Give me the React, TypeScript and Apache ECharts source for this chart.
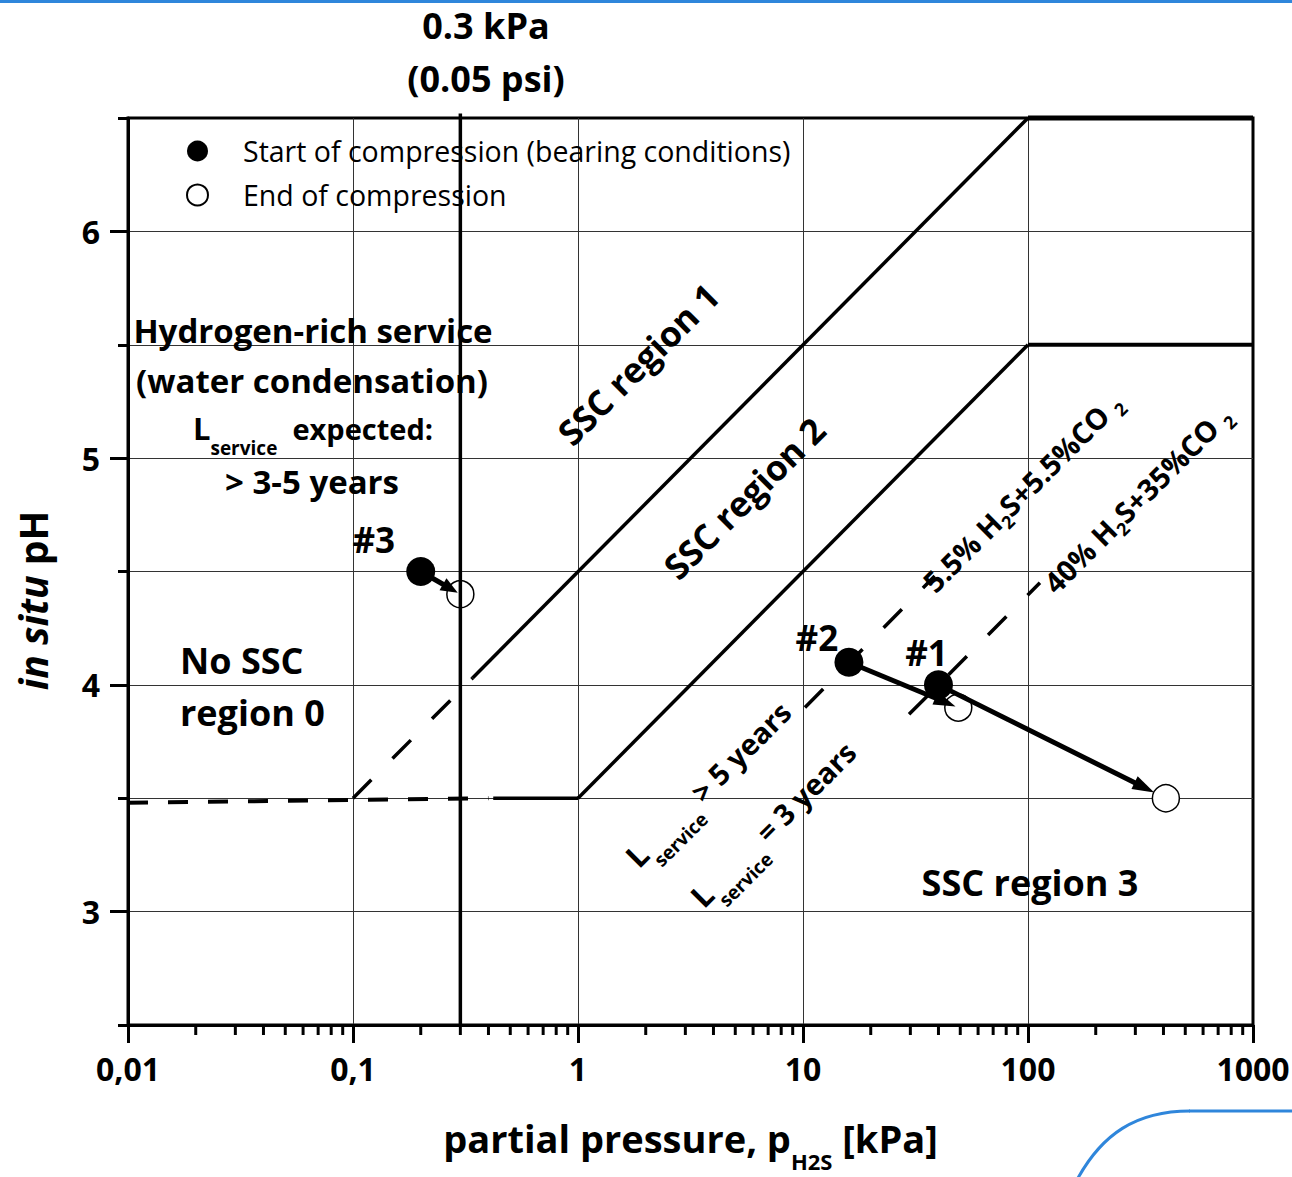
import React, { useEffect, useRef } from 'react';
import * as echarts from 'echarts';

// ---------------- data ----------------
const xTickValues = [0.01, 0.1, 1, 10, 100, 1000];
const xTickLabels = ['0,01', '0,1', '1', '10', '100', '1000'];
const xMinorMantissas = [2, 3, 4, 5, 6, 7, 8, 9];
const xMinorDecades = [0.01, 0.1, 1, 10, 100];
const yMajorTicks = [3, 4, 5, 6];
const yTickLabels = ['3', '4', '5', '6'];

const legendNames = ['Start of compression (bearing conditions)', 'End of compression'];
const caseNames = ['#1', '#2', '#3'];
const startPressure = [40, 16, 0.2];
const startPH = [4.0, 4.1, 4.5];
const endPressure = [410, 49, 0.3];
const endPH = [3.5, 3.9, 4.4];

const limit03kPa = [[0.3, 2.5], [0.3, 6.52]];
const floorDashed = [[0.01, 3.48], [0.4, 3.5]];
const floorSolid = [[0.42, 3.5], [1, 3.5]];
const bound01Dashed = [[0.1, 3.5], [0.34, 4.03]];
const bound01Solid = [[0.34, 4.03], [100, 6.5]];
const bound01Top = [[100, 6.5], [1000, 6.5]];
const bound12Solid = [[1, 3.5], [100, 5.5]];
const bound12Top = [[100, 5.5], [1000, 5.5]];
const gas55Line = [[10.2, 3.9], [38.5, 4.48]];
const gas40Line = [[29.6, 3.87], [113, 4.45]];

// ---------------- styles ----------------
const FONT = 'Open Sans';
const BLUE = '#2f86db';
const caseLabelOffsets = [[-12, -32], [-32, -25], [-47, -32]];
const arrowTipGaps = [13, 3, 3];

const xMinorTicks: number[] = [];
xMinorDecades.forEach((d) => xMinorMantissas.forEach((m) => xMinorTicks.push(+(d * m).toPrecision(6))));

function lineSeries(data: number[][], width: number, dash?: number[], z = 2) {
  return {
    type: 'line',
    data,
    symbol: 'none',
    silent: true,
    clip: false,
    z,
    xAxisIndex: 0,
    yAxisIndex: 0,
    emphasis: { disabled: true },
    lineStyle: { color: '#000', width, type: dash || 'solid', cap: 'butt' },
  };
}

function txt(text: string, x: number, y: number, size: number, opts: any = {}) {
  return {
    type: 'text',
    x,
    y,
    rotation: opts.rotation || 0,
    z: 100,
    silent: true,
    style: {
      text,
      fill: '#000',
      fontFamily: FONT,
      fontSize: size,
      fontWeight: opts.weight || 'bold',
      align: opts.align || 'center',
      verticalAlign: 'middle',
      rich: opts.rich,
    },
  };
}

function tok(size: number, extra: any = {}) {
  return { fontFamily: FONT, fontSize: size, fontWeight: 'bold', fill: '#000', ...extra };
}

export default function App() {
  const ref = useRef<HTMLDivElement>(null);

  useEffect(() => {
    if (!ref.current) return;
    const chart = echarts.init(ref.current, undefined, { renderer: 'svg' });

    const xLabel = (v: number) => {
      const i = xTickValues.findIndex((t) => Math.abs(t - v) / t < 1e-6);
      return i >= 0 ? xTickLabels[i] : '';
    };
    const yLabel = (v: number) => {
      const i = yMajorTicks.findIndex((t) => Math.abs(t - v) < 1e-6);
      return i >= 0 ? yTickLabels[i] : '';
    };

    const gasRich = {
      m: tok(29),
      s: tok(18, { padding: [22, 0, 0, 0], lineHeight: 10 }),
    };
    const lRich = {
      L: tok(31),
      s: tok(19, { padding: [40, 0, 0, 0], lineHeight: 10 }),
      m: tok(29),
    };

    const option: any = {
      animation: false,
      backgroundColor: '#fff',
      textStyle: { fontFamily: FONT },
      grid: {
        left: 128,
        top: 118,
        width: 1125,
        height: 907,
        show: true,
        borderColor: '#000',
        borderWidth: 3,
        backgroundColor: 'transparent',
        outerBoundsMode: 'none',
      },
      legend: {
        data: legendNames,
        orient: 'vertical',
        left: 181,
        top: 131,
        itemWidth: 21,
        itemHeight: 21,
        itemGap: 14,
        icon: 'circle',
        selectedMode: false,
        textStyle: {
          fontFamily: FONT,
          fontSize: 28.5,
          color: '#000',
          lineHeight: 30,
          padding: [0, 0, 0, 30],
        },
      },
      xAxis: [
        {
          type: 'log',
          logBase: 10,
          min: 0.01,
          max: 1000,
          position: 'bottom',
          axisLine: { show: true, lineStyle: { color: '#000', width: 3 } },
          axisTick: { show: true, inside: false, length: 18, lineStyle: { color: '#000', width: 3 } },
          axisLabel: {
            formatter: xLabel,
            margin: 27,
            fontFamily: FONT,
            fontSize: 32,
            fontWeight: 'bold',
            color: '#000',
            showMinLabel: true,
            showMaxLabel: true,
          },
          splitLine: { show: true, showMinLine: false, showMaxLine: false, lineStyle: { color: '#333', width: 1 } },
          minorTick: { show: false },
          name: '{m|partial pressure, p}{s|H2S}{m| [kPa]}',
          nameLocation: 'middle',
          nameGap: 94,
          nameTextStyle: {
            color: '#000',
            fontFamily: FONT,
            fontSize: 38,
            fontWeight: 'bold',
            rich: {
              m: { fontFamily: FONT, fontSize: 38, fontWeight: 'bold', color: '#000' },
              s: { fontFamily: FONT, fontSize: 22, fontWeight: 'bold', color: '#000', padding: [46, 0, 0, 0], lineHeight: 10 },
            },
          },
        },
      ],
      yAxis: [
        {
          type: 'value',
          min: 2.5,
          max: 6.5,
          interval: 0.5,
          position: 'left',
          axisLine: { show: true, lineStyle: { color: '#000', width: 3 } },
          axisTick: { show: true, inside: false, length: 10, lineStyle: { color: '#000', width: 3 } },
          axisLabel: {
            formatter: yLabel,
            margin: 28,
            fontFamily: FONT,
            fontSize: 32,
            fontWeight: 'bold',
            color: '#000',
            showMinLabel: true,
            showMaxLabel: true,
          },
          splitLine: { show: true, showMinLine: false, showMaxLine: false, lineStyle: { color: '#333', width: 1 } },
          name: '{i|in situ }{m|pH}',
          nameLocation: 'middle',
          nameRotate: 90,
          nameGap: 76,
          nameTextStyle: {
            color: '#000',
            fontFamily: FONT,
            fontSize: 39,
            fontWeight: 'bold',
            padding: [0, 58, 0, 0],
            rich: {
              i: { fontFamily: FONT, fontSize: 39, fontWeight: 'bold', fontStyle: 'italic', color: '#000' },
              m: { fontFamily: FONT, fontSize: 39, fontWeight: 'bold', color: '#000' },
            },
          },
        },
        {
          type: 'value',
          min: 2.5,
          max: 6.5,
          position: 'left',
          axisLine: { show: false },
          axisTick: { show: true, inside: false, length: 18, customValues: yMajorTicks, lineStyle: { color: '#000', width: 3 } },
          axisLabel: { show: false },
          splitLine: { show: false },
        },
      ],
      series: [
        // minor ticks of the log x axis
        {
          type: 'custom',
          coordinateSystem: 'cartesian2d',
          xAxisIndex: 0,
          yAxisIndex: 0,
          silent: true,
          clip: false,
          z: 1,
          data: xMinorTicks.map((v) => [v, 2.5]),
          renderItem: (params: any, api: any) => {
            const p = api.coord([api.value(0), api.value(1)]);
            return {
              type: 'line',
              shape: { x1: p[0], y1: p[1], x2: p[0], y2: p[1] + 10 },
              style: { stroke: '#000', lineWidth: 3 },
            };
          },
        },
        lineSeries(floorDashed, 4, [20, 20]),
        lineSeries(floorSolid, 3.5),
        lineSeries(bound01Dashed, 3.5, [26, 30]),
        lineSeries(bound01Solid, 3.5),
        lineSeries(bound01Top, 5),
        lineSeries(bound12Solid, 3.5),
        lineSeries(bound12Top, 4),
        lineSeries(gas55Line, 3.5, [26, 30]),
        lineSeries(gas40Line, 3.5, [26, 30]),
        {
          name: legendNames[1],
          type: 'scatter',
          xAxisIndex: 0,
          yAxisIndex: 0,
          symbol: 'circle',
          symbolSize: 27,
          z: 3,
          silent: true,
          clip: false,
          emphasis: { disabled: true },
          itemStyle: { color: '#fff', borderColor: '#000', borderWidth: 1.5, opacity: 1 },
          data: endPressure.map((p, i) => [p, endPH[i]]),
        },
        lineSeries(limit03kPa, 3.5, undefined, 4),
        // arrows start -> end
        {
          type: 'custom',
          coordinateSystem: 'cartesian2d',
          xAxisIndex: 0,
          yAxisIndex: 0,
          silent: true,
          clip: false,
          z: 5,
          encode: { x: [0, 2], y: [1, 3] },
          data: startPressure.map((p, i) => [p, startPH[i], endPressure[i], endPH[i]]),
          renderItem: (params: any, api: any) => {
            const p0 = api.coord([api.value(0), api.value(1)]);
            const p1 = api.coord([api.value(2), api.value(3)]);
            const gap = arrowTipGaps[params.dataIndex];
            const dx = p1[0] - p0[0];
            const dy = p1[1] - p0[1];
            const len = Math.hypot(dx, dy);
            const ux = dx / len;
            const uy = dy / len;
            const tip = [p1[0] - ux * gap, p1[1] - uy * gap];
            const headLen = params.dataIndex === 2 ? 17 : 22;
            const headW = 7;
            const base = [tip[0] - ux * headLen, tip[1] - uy * headLen];
            const nx = -uy;
            const ny = ux;
            return {
              type: 'group',
              children: [
                {
                  type: 'line',
                  shape: { x1: p0[0], y1: p0[1], x2: base[0] + ux * 2, y2: base[1] + uy * 2 },
                  style: { stroke: '#000', lineWidth: 5 },
                },
                {
                  type: 'polygon',
                  shape: {
                    points: [
                      tip,
                      [base[0] + nx * headW, base[1] + ny * headW],
                      [base[0] - nx * headW, base[1] - ny * headW],
                    ],
                  },
                  style: { fill: '#000' },
                },
              ],
            };
          },
        },
        {
          name: legendNames[0],
          type: 'scatter',
          xAxisIndex: 0,
          yAxisIndex: 0,
          symbol: 'circle',
          symbolSize: 29,
          z: 6,
          silent: true,
          clip: false,
          emphasis: { disabled: true },
          itemStyle: { color: '#000', opacity: 1 },
          label: {
            show: true,
            position: 'inside',
            formatter: (p: any) => caseNames[p.dataIndex],
            fontFamily: FONT,
            fontSize: 35,
            fontWeight: 'bold',
            color: '#000',
          },
          data: startPressure.map((p, i) => ({
            value: [p, startPH[i]],
            label: { offset: caseLabelOffsets[i] },
          })),
        },
      ],
      graphic: [
        { type: 'rect', silent: true, shape: { x: 0, y: 0, width: 1292, height: 3 }, style: { fill: BLUE } },
        {
          type: 'bezierCurve',
          silent: true,
          shape: { x1: 1078, y1: 1178, cpx1: 1102, cpy1: 1135, cpx2: 1135, cpy2: 1111, x2: 1190, y2: 1111 },
          style: { stroke: BLUE, lineWidth: 3, fill: null },
        },
        { type: 'line', silent: true, shape: { x1: 1189, y1: 1111, x2: 1292, y2: 1111 }, style: { stroke: BLUE, lineWidth: 3 } },
        txt('0.3 kPa', 486, 25, 36),
        txt('(0.05 psi)', 486, 78, 36),
        txt('Hydrogen-rich service', 313, 330, 33),
        txt('(water condensation)', 312, 380, 33),
        txt('{L|L}{s|service}{m|  expected:}', 313, 428, 31, { rich: lRich }),
        txt('> 3-5 years', 312, 481, 33),
        txt('No SSC', 180, 660, 36, { align: 'left' }),
        txt('region 0', 180, 712, 36, { align: 'left' }),
        txt('SSC region 3', 1030, 882, 36),
        txt('SSC region 1', 638, 364, 35, { rotation: Math.PI / 4 }),
        txt('SSC region 2', 744, 498, 35, { rotation: Math.PI / 4 }),
        txt('{m|5.5% H}{s|2}{m|S+5.5%CO }{s|2}', 1022, 492, 29, { rotation: Math.PI / 4, rich: gasRich }),
        txt('{m|40% H}{s|2}{m|S+35%CO }{s|2}', 1137, 499, 29, { rotation: Math.PI / 4, rich: gasRich }),
        txt('{L|L}{s|service}{m| > 5 years}', 708, 784, 29, { rotation: Math.PI / 4, rich: lRich }),
        txt('{L|L}{s|service}{m| = 3 years}', 773, 824, 29, { rotation: Math.PI / 4, rich: lRich }),
      ],
    };

    chart.setOption(option);
    return () => chart.dispose();
  }, []);

  return (
    <div
      ref={ref}
      style={{ position: 'fixed', left: 0, top: 0, width: 1292, height: 1177, background: '#fff' }}
    />
  );
}
